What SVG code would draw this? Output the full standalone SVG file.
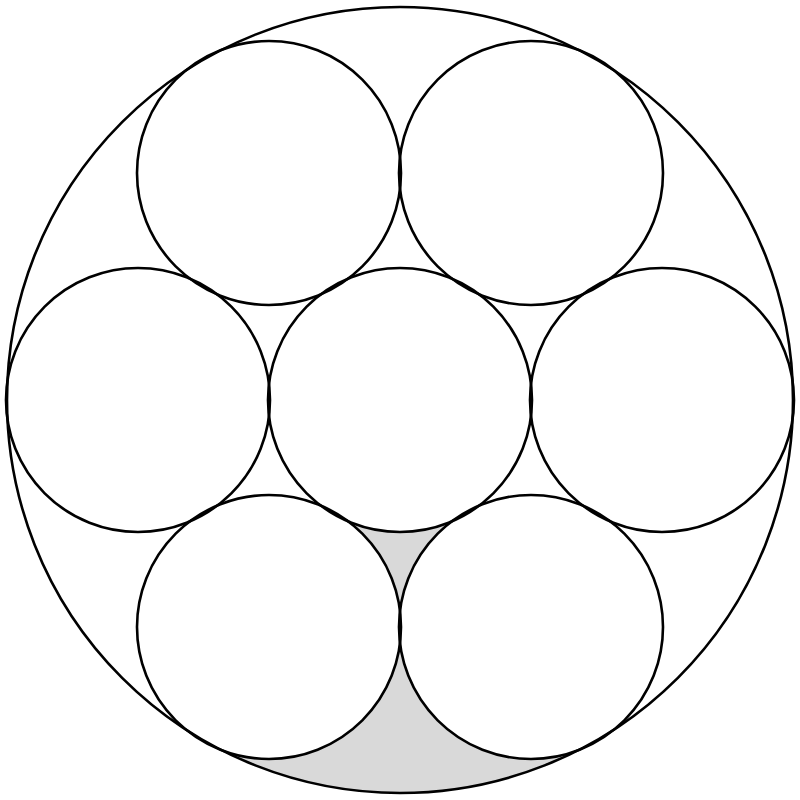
<svg xmlns="http://www.w3.org/2000/svg" width="800" height="800" viewBox="0 0 800 800">
  <style>
    .c { fill: none; stroke: #000; stroke-width: 2.6; }
    .gap { fill: #d9d9d9; }
  </style>
  <defs>
    <mask id="holes" maskUnits="userSpaceOnUse" x="0" y="0" width="800" height="800">
      <rect x="0" y="0" width="800" height="800" fill="#fff"/>
      <circle cx="400" cy="400" r="132" fill="#000"/>
      <circle cx="269" cy="627" r="132" fill="#000"/>
      <circle cx="531" cy="627" r="132" fill="#000"/>
    </mask>
  </defs>
  <rect x="0" y="0" width="800" height="800" fill="#fff"/>
  <g id="shading" mask="url(#holes)">
    <path class="gap" d="M400,400 L269,627 L531,627 Z"/>
    <path class="gap" d="M203.5,740.5 A393,393 0 0 0 596.5,740.5 L531,627 L269,627 Z"/>
  </g>
  <g id="outer"><circle class="c" cx="400" cy="400" r="393"/></g>
  <g id="center"><circle class="c" cx="400" cy="400" r="132"/></g>
  <g id="left"><circle class="c" cx="138" cy="400" r="132"/></g>
  <g id="right"><circle class="c" cx="662" cy="400" r="132"/></g>
  <g id="top-left"><circle class="c" cx="269" cy="173" r="132"/></g>
  <g id="top-right"><circle class="c" cx="531" cy="173" r="132"/></g>
  <g id="bottom-left"><circle class="c" cx="269" cy="627" r="132"/></g>
  <g id="bottom-right"><circle class="c" cx="531" cy="627" r="132"/></g>
</svg>
